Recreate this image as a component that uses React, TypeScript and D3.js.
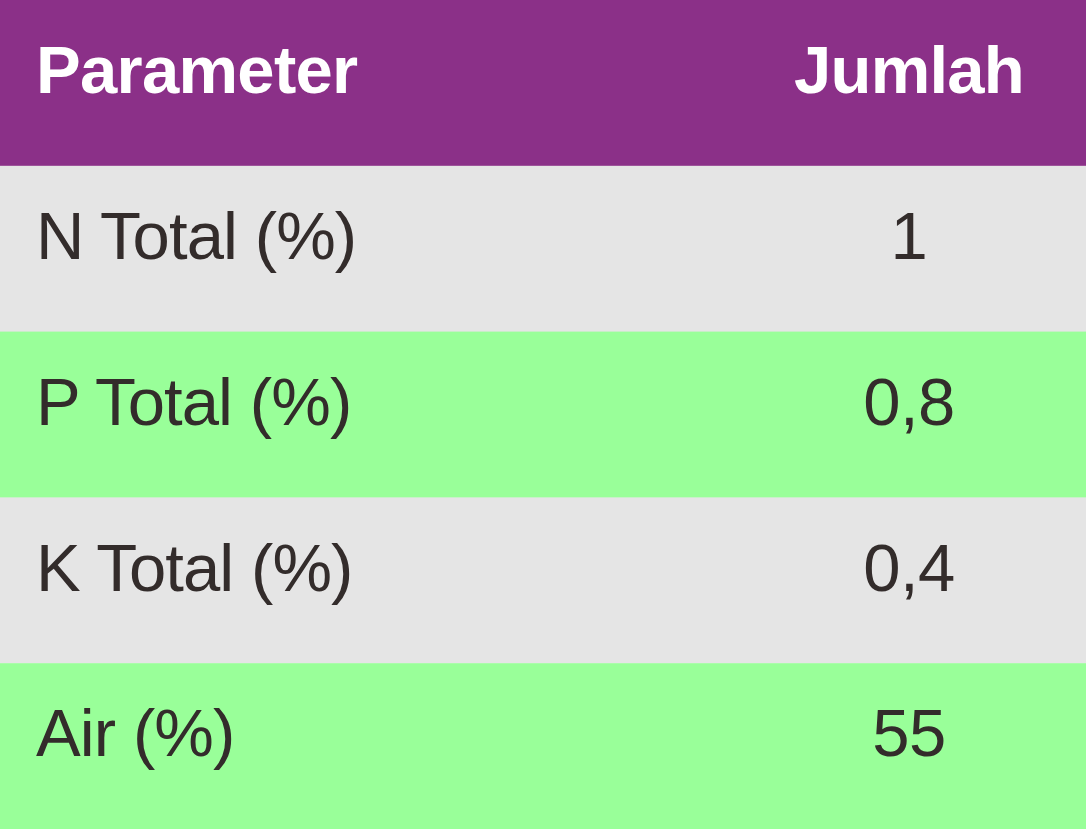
import { scaleBand } from "d3";
import { useEffect } from "react";

const headers = ["Parameter", "Jumlah"];
const parameters = ["N Total (%)", "P Total (%)", "K Total (%)", "Air (%)"];
const values = ["1", "0,8", "0,4", "55"];
const rowColors = ["#e5e5e5", "#99ff99", "#e5e5e5", "#99ff99"];

const width = 1086;
const height = 829;

const App = () => {
  useEffect(() => {
    document.body.style.margin = "0";
  }, []);

  const rows = ["header", ...parameters];
  const yScale = scaleBand().domain(rows).range([0, height]);
  const bh = yScale.bandwidth();
  const baseline = bh * 0.562;
  const leftX = 36;
  const valueX = 909;

  return (
    <svg width={width} height={height} style={{ display: "block" }}
      fontFamily="'Liberation Sans', Arial, sans-serif">
      <rect x={0} y={yScale("header")} width={width} height={bh + 0.5} fill="#8b3088" />
      <text x={leftX} y={(yScale("header") ?? 0) + baseline} fontSize={67} fontWeight="bold"
        fill="#fff" letterSpacing={-0.7}>
        {headers[0]}
      </text>
      <text x={valueX} y={(yScale("header") ?? 0) + baseline} fontSize={67} fontWeight="bold"
        fill="#fff" textAnchor="middle" letterSpacing={-0.8}>
        {headers[1]}
      </text>
      {parameters.map((p, i) => {
        const y = yScale(p) ?? 0;
        return (
          <g key={p}>
            <rect x={0} y={y} width={width} height={bh + 0.5} fill={rowColors[i]} />
            <text x={leftX} y={y + baseline} fontSize={67} fill="#332c2b" letterSpacing={-0.9}>{p}</text>
            <text x={valueX} y={y + baseline} fontSize={67} fill="#332c2b" textAnchor="middle"
              letterSpacing={-0.5}>
              {values[i]}
            </text>
          </g>
        );
      })}
    </svg>
  );
};

export default App;
